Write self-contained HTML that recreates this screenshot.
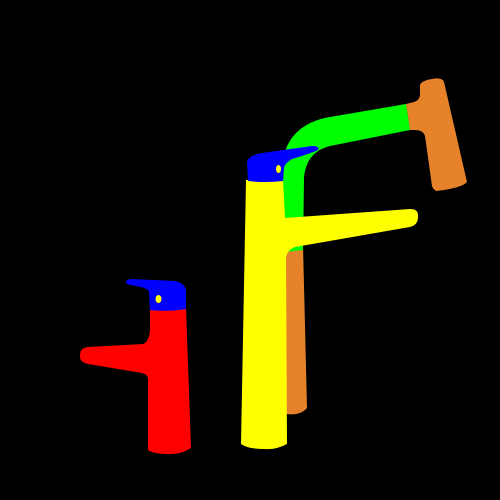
<!DOCTYPE html>
<html><head><meta charset="utf-8"><style>html,body{margin:0;padding:0;background:#000;}svg{display:block}</style></head>
<body>
<svg width="500" height="500" viewBox="0 0 500 500">
<rect width="500" height="500" fill="#000"/>
<path fill="#e6822a" d="M284,245 L303,245 L307,408 Q300,416 286,414 Z"/>
<path fill="#e6822a" d="M420,87 Q419,81 432,79 Q442,77 444,82 L467,182 Q462,188 436,191 Q433,189 432,186 L425,136 Q423,130 415,130 L410,130 L406,104 L414,102 Q420,100 420,94 Z"/>
<path fill="#00ff00" d="M406,104 L410,130 L330,146 Q306,152 304,178 L303,250 L286,252 L283,213 L283,165 C284,140 300,122 330,117 Z"/>
<path fill="#ffff00" d="M246,180 L283,180 L285,218 L410,209 Q419,209 418,217 Q418,225 410,227 L295,247 Q287,250 286,258 L287,444 Q276,450 264,449 Q248,449 241,444 Z"/>
<path fill="#0000ff" d="M247,162 Q249,155 262,153 L312,146 Q320,146 318,150 Q312,153 292,159 Q285,163 284,168 L283,181 Q265,183 248,181 Z"/>
<ellipse cx="278.5" cy="169" rx="2.5" ry="4" fill="#ffff00"/>
<path fill="#ff0000" d="M150,309 L186,307 L191,448 Q180,455 168,454 Q154,454 148,450 L148,380 Q148,374 142,373 L88,364 Q79,362 80,355 Q80,348 88,347 L143,344 Q149,342 150,330 Z"/>
<path fill="#0000ff" d="M130,279 L176,281 Q186,284 186,292 L186,309 Q168,312 150,310 L149,292 Q148,288 136,286 Q124,284 126,281 Z"/>
<ellipse cx="158.5" cy="299" rx="3" ry="4" fill="#ffff00"/>
</svg>
</body></html>
